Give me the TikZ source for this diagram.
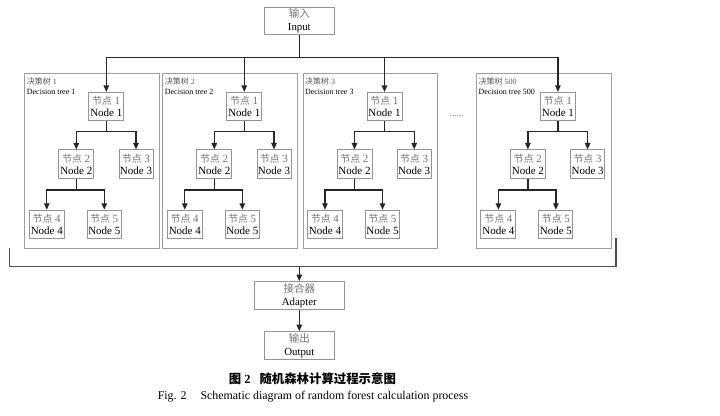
\documentclass[tikz,border=0pt]{standalone}
\usepackage{fontspec}
\setmainfont{Liberation Serif}
\newfontfamily\cjk{Noto Sans CJK SC}
\usetikzlibrary{arrows.meta}
\newcommand\zhg[2][9.8]{{\color{black!55}{\cjk\fontsize{#1}{11.6}\selectfont #2}}}
\newcommand\dtree[3]{%
  \node[frame] (#1f) at (#2,73.3) {};
  \node[lab, text=black!65] (#1zl) at (#2+2.4,81.7) {{\cjk 决策树}~#3};
  \node[lab] (#1el) at (#2+2.4,92) {Decision tree #3};
  \node[tnode] (#1n1) at (#2+82,106.65) {\zhg{节点}\textcolor{black!55}{~1}\\Node 1};
  \node[tnode] (#1n2) at (#2+52,164.2) {\zhg{节点}\textcolor{black!55}{~2}\\Node 2};
  \node[tnode, minimum width=34] (#1n3) at (#2+111.7,164.2) {\zhg{节点}\textcolor{black!55}{~3}\\Node 3};
  \node[tnode] (#1n4) at (#2+22.5,224.5) {\zhg{节点}\textcolor{black!55}{~4}\\Node 4};
  \node[tnode, minimum width=34] (#1n5) at (#2+80,224.5) {\zhg{节点}\textcolor{black!55}{~5}\\Node 5};
  \draw[arr] (#1n1.south) -- ++(0,10) -| (#1n2.north);
  \draw[arr] (#1n1.south) -- ++(0,10) -| (#1n3.north);
  \draw[arr] (#1n2.south) -- ++(0,11) -| (#1n4.north);
  \draw[arr] (#1n2.south) -- ++(0,11) -| (#1n5.north);
}
\begin{document}
\begin{tikzpicture}[x=1pt,y=-1pt,
  box/.style={draw=black!42, line width=1pt, fill=white, inner sep=0pt, align=center,
    font=\fontsize{11}{11.6}\selectfont},
  tnode/.style={box, minimum width=35, minimum height=28.5},
  frame/.style={draw=black!38, line width=1pt, minimum width=134.7, minimum height=174.7,
    anchor=north west, inner sep=0pt},
  lab/.style={anchor=west, inner sep=0pt, font=\fontsize{8}{9}\selectfont},
  wire/.style={draw=black!85, line width=1.2pt},
  arr/.style={wire, -{Triangle[length=6.5pt,width=5.5pt]}},
]
\useasboundingbox (0,0) rectangle (720,415);
\fill[white] (0,0) rectangle (720,415);

\node[box, minimum width=70, minimum height=27.6, font=\fontsize{10.8}{12.4}\selectfont] (in) at (299.3,20.8) {\zhg[10.5]{输入}\\Input};

\dtree{t1}{24.3}{1}
\dtree{t2}{162.3}{2}
\dtree{t3}{302.5}{3}
\dtree{t500}{475.9}{500}

\node[inner sep=0pt, font=\fontsize{9}{10}\selectfont, text=black!60] (dots) at (456.5,116) {......};

\draw[arr] (in.south) -- ++(0,22.2) -| (t1n1.north);
\draw[arr] (in.south) -- ++(0,22.2) -| (t2n1.north);
\draw[arr] (in.south) -- ++(0,22.2) -| (t3n1.north);
\draw[arr] (in.south) -- ++(0,22.2) -| (t500n1.north);

\coordinate (bl) at (9.3,248);
\coordinate (bc) at (299.3,266.7);
\coordinate (br) at (616,238);
\draw[wire, draw=black!70] (bl) -- (bl |- bc) -- (br |- bc) -- (br);

\node[box, minimum width=90, minimum height=27.6, font=\fontsize{10.8}{13.4}\selectfont] (ad) at (299.3,295.5) {\zhg[10.5]{接合器}\\Adapter};
\node[box, minimum width=70, minimum height=28, font=\fontsize{10.8}{13.4}\selectfont] (out) at (299.3,345.7) {\zhg[10.5]{输出}\\Output};
\draw[arr] (bc) -- (ad.north);
\draw[arr] (ad.south) -- (out.north);

\node[anchor=west, inner sep=0pt, font=\fontsize{12.4}{14}\selectfont] (cap1) at (228.7,379)
  {{\cjk\bfseries 图}\hspace{3pt}\textbf{2}\hspace{9pt}{\cjk\bfseries 随机森林计算过程示意图}};
\node[inner sep=0pt, font=\fontsize{11.9}{13}\selectfont] (cap2) at (313,396.7)
  {Fig. 2\hspace{14pt}Schematic diagram of random forest calculation process};
\end{tikzpicture}
\end{document}
